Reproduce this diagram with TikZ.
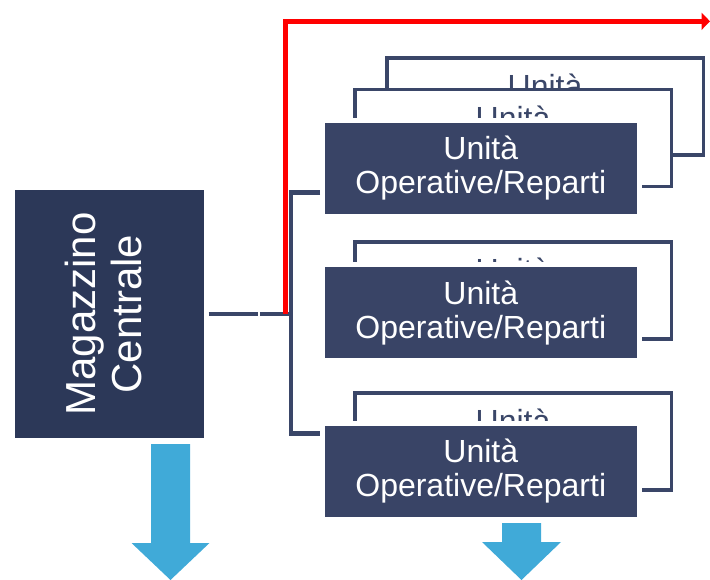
\documentclass[tikz,border=0pt]{standalone}
\usepackage{fontspec}
\setmainfont{Liberation Sans}
\usetikzlibrary{arrows.meta}

\definecolor{magnavy}{HTML}{2C3858}
\definecolor{unitnavy}{HTML}{394466}
\definecolor{linenavy}{HTML}{3A4668}
\definecolor{flowblue}{HTML}{40AAD8}

\begin{document}
\begin{tikzpicture}[x=1pt,y=-1pt,
  unitfont/.style={font=\fontsize{32}{34}\selectfont},
  frontbox/.style={rectangle, fill=unitnavy, draw=white, line width=5pt,
    minimum width=316.5pt, minimum height=96pt, inner sep=0pt,
    text=white, align=center, unitfont},
  backbox/.style={rectangle, fill=white, draw=linenavy, line width=3.5pt,
    minimum width=316.5pt, minimum height=97pt, inner sep=0pt,
    text=linenavy, align=center, unitfont},
  magbox/.style={rectangle, fill=magnavy, draw=white, line width=5pt,
    minimum width=193.5pt, minimum height=253pt, inner sep=0pt,
    text=white, font=\fontsize{42}{46.5}\selectfont},
  link/.style={draw=linenavy, line width=4.5pt},
  redflow/.style={draw=red, line width=5.5pt,
    -{Triangle[length=8.5pt,width=17pt]}},
  flow/.style={fill=flowblue}]

\useasboundingbox (0,0) rectangle (710,580);

% stacked outlines behind each unit box
\node[backbox] (b1b) at (545,106.5) {Unità\\Operative/Reparti};
\node[backbox] (b1a) at (513,138) {Unità\\Operative/Reparti};
\node[backbox] (b2)  at (513,290.4) {Unità\\Operative/Reparti};
\node[backbox] (b3)  at (513,441.5) {Unità\\Operative/Reparti};

% front unit boxes
\node[frontbox] (u1) at (480.75,168.5) {Unità\\Operative/Reparti};
\node[frontbox] (u2) at (480.75,312.6) {Unità\\Operative/Reparti};
\node[frontbox] (u3) at (480.75,471.5) {Unità\\Operative/Reparti};

% central warehouse
\node[magbox] (mag) at (109.25,314)
  {\rotatebox{90}{\begin{tabular}{@{}c@{}}Magazzino\\Centrale\end{tabular}}};

% connector from the warehouse to the bracket
\coordinate (cut) at (259,314);
\coordinate (hub) at (291,314);
\draw[link] (mag.east) -- ([xshift=-0.8pt]cut);
\draw[link] ([xshift=0.8pt]cut) -- (hub);

% bracket feeding the unit boxes
\coordinate (btop) at (291,192.5);
\coordinate (bbot) at (291,433.5);
\draw[link] (btop -| u1.west) -- (btop) -- (bbot) -- (bbot -| u3.west);

% red route
\coordinate (rise) at (285.5,314);
\coordinate (redcorner) at (285.5,21.3);
\coordinate (redend) at (710,21.3);
\draw[redflow] (rise) -- (redcorner) -- (redend);

% downward flow arrows
\fill[flow] (151,444) -- (190,444) -- (190,543) -- (209.5,543)
  -- (170.5,580) -- (131.5,543) -- (151,543) -- cycle;
\fill[flow] (502,523) -- (541,523) -- (541,542) -- (561,542)
  -- (521.5,580) -- (482,542) -- (502,542) -- cycle;
\end{tikzpicture}
\end{document}
